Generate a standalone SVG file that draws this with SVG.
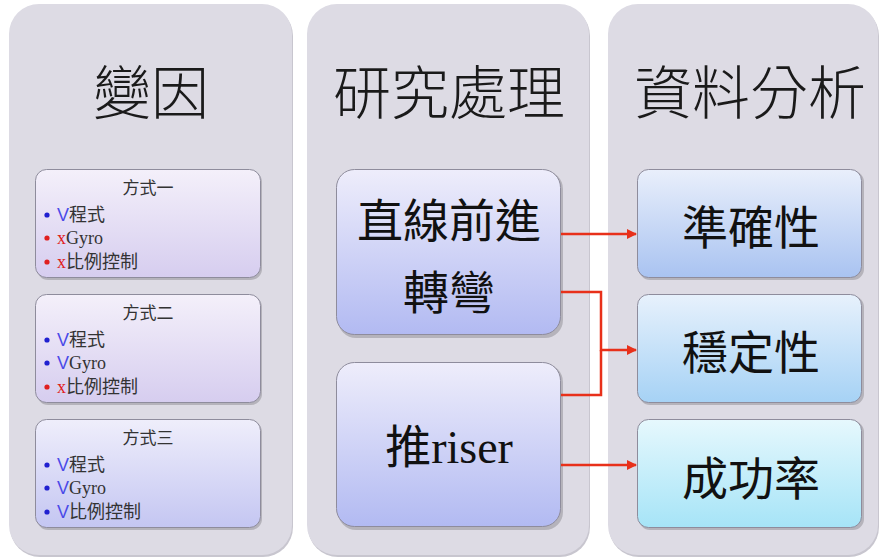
<svg xmlns="http://www.w3.org/2000/svg" width="883" height="558" viewBox="0 0 883 558">
<defs>
<style>
.col{fill:#dddbe4;}
.title{font-family:"Noto Sans CJK TC","Noto Sans CJK SC",sans-serif;font-size:58px;fill:#1a1a1a;text-anchor:middle;font-weight:300;}
.small{stroke:#8e8c9c;stroke-width:1;}
.sh{fill:#000;opacity:0.18;}
.st{font-family:"Liberation Serif","Noto Sans CJK TC",serif;font-size:18px;fill:#333;}
.hd{font-family:"Noto Sans CJK TC",sans-serif;font-size:17px;fill:#333;text-anchor:middle;}
.b{fill:#2020d0;}
.r{fill:#e02020;}
.vb{fill:#4a4ae8;font-family:"Liberation Sans",sans-serif;}
.xr{fill:#e02020;}
.big{font-family:"Liberation Serif","Noto Sans CJK TC",serif;font-size:46px;fill:#111;text-anchor:middle;}
.conn{fill:none;stroke:#e8301a;stroke-width:2.5;}
</style>
<linearGradient id="gL1" x1="0" y1="0" x2="0" y2="1"><stop offset="0" stop-color="#f4f0fa"/><stop offset="1" stop-color="#d6cdef"/></linearGradient>
<linearGradient id="gL3" x1="0" y1="0" x2="0" y2="1"><stop offset="0" stop-color="#efeefb"/><stop offset="1" stop-color="#c4c6f2"/></linearGradient>
<linearGradient id="gM" x1="0" y1="0" x2="0" y2="1"><stop offset="0" stop-color="#eeedfb"/><stop offset="1" stop-color="#b2baf2"/></linearGradient>
<linearGradient id="gR1" x1="0" y1="0" x2="0" y2="1"><stop offset="0" stop-color="#e9effb"/><stop offset="1" stop-color="#a9c3f1"/></linearGradient>
<linearGradient id="gR2" x1="0" y1="0" x2="0" y2="1"><stop offset="0" stop-color="#e7f1fc"/><stop offset="1" stop-color="#a6d2f5"/></linearGradient>
<linearGradient id="gR3" x1="0" y1="0" x2="0" y2="1"><stop offset="0" stop-color="#e6f8fd"/><stop offset="1" stop-color="#a6e4f7"/></linearGradient>
<marker id="ah" viewBox="0 0 10 10" refX="9" refY="5" markerWidth="4" markerHeight="4" orient="auto" markerUnits="strokeWidth">
<path d="M0,0 L10,5 L0,10 z" fill="#e8301a"/>
</marker>
</defs>
<rect width="883" height="558" fill="#ffffff"/>

<g id="col1">
<rect x="10" y="6" width="283" height="551" rx="30" fill="#c8c6cf"/>
<rect class="col" x="9" y="4" width="283" height="551" rx="30"/>
<text class="title" x="151" y="114">變因</text>
</g>
<g id="col2">
<rect x="308" y="6" width="282" height="551" rx="30" fill="#c8c6cf"/>
<rect class="col" x="307" y="4" width="282" height="551" rx="30"/>
<text class="title" x="449" y="114">研究處理</text>
</g>
<g id="col3">
<rect x="609" y="6" width="270" height="551" rx="30" fill="#c8c6cf"/>
<rect class="col" x="608" y="4" width="270" height="551" rx="30"/>
<text class="title" x="750" y="114">資料分析</text>
</g>

<g id="m1">
<rect class="sh" x="37" y="171" width="225" height="109" rx="11"/>
<rect class="small" x="35.5" y="169.5" width="225" height="108" rx="11" fill="url(#gL1)"/>
<text class="hd" x="148" y="194">方式一</text>
<circle class="b" cx="47" cy="215" r="2.6"/><text class="st" x="57" y="221"><tspan class="vb">V</tspan>程式</text>
<circle class="r" cx="47" cy="238" r="2.6"/><text class="st" x="57" y="244"><tspan class="xr">x</tspan>Gyro</text>
<circle class="r" cx="47" cy="262" r="2.6"/><text class="st" x="57" y="268"><tspan class="xr">x</tspan>比例控制</text>
</g>
<g id="m2">
<rect class="sh" x="37" y="296" width="225" height="109" rx="11"/>
<rect class="small" x="35.5" y="294.5" width="225" height="108" rx="11" fill="url(#gL1)"/>
<text class="hd" x="148" y="319">方式二</text>
<circle class="b" cx="47" cy="340" r="2.6"/><text class="st" x="57" y="346"><tspan class="vb">V</tspan>程式</text>
<circle class="b" cx="47" cy="363" r="2.6"/><text class="st" x="57" y="369"><tspan class="vb">V</tspan>Gyro</text>
<circle class="r" cx="47" cy="387" r="2.6"/><text class="st" x="57" y="393"><tspan class="xr">x</tspan>比例控制</text>
</g>
<g id="m3">
<rect class="sh" x="37" y="421" width="225" height="109" rx="11"/>
<rect class="small" x="35.5" y="419.5" width="225" height="108" rx="11" fill="url(#gL3)"/>
<text class="hd" x="148" y="444">方式三</text>
<circle class="b" cx="47" cy="465" r="2.6"/><text class="st" x="57" y="471"><tspan class="vb">V</tspan>程式</text>
<circle class="b" cx="47" cy="488" r="2.6"/><text class="st" x="57" y="494"><tspan class="vb">V</tspan>Gyro</text>
<circle class="b" cx="47" cy="512" r="2.6"/><text class="st" x="57" y="518"><tspan class="vb">V</tspan>比例控制</text>
</g>

<g id="p1">
<rect class="sh" x="338" y="171" width="225" height="167" rx="18"/>
<rect class="small" x="336.5" y="169.5" width="224" height="165" rx="18" fill="url(#gM)"/>
<text class="big" x="449" y="237">直線前進</text>
<text class="big" x="449" y="309">轉彎</text>
</g>
<g id="p2">
<rect class="sh" x="338" y="364" width="225" height="166" rx="18"/>
<rect class="small" x="336.5" y="362.5" width="224" height="164" rx="18" fill="url(#gM)"/>
<text class="big" x="449" y="463">推riser</text>
</g>

<g id="r1">
<rect class="sh" x="639" y="171" width="225" height="109" rx="11"/>
<rect class="small" x="637.5" y="169.5" width="224" height="108" rx="11" fill="url(#gR1)"/>
<text class="big" x="751" y="244">準確性</text>
</g>
<g id="r2">
<rect class="sh" x="639" y="296" width="225" height="109" rx="11"/>
<rect class="small" x="637.5" y="294.5" width="224" height="108" rx="11" fill="url(#gR2)"/>
<text class="big" x="751" y="369">穩定性</text>
</g>
<g id="r3">
<rect class="sh" x="639" y="421" width="225" height="109" rx="11"/>
<rect class="small" x="637.5" y="419.5" width="224" height="108" rx="11" fill="url(#gR3)"/>
<text class="big" x="751" y="495">成功率</text>
</g>

<g id="connectors">
<path class="conn" d="M561,234 H636" marker-end="url(#ah)"/>
<path class="conn" d="M561,292 H601 V350 H636" marker-end="url(#ah)"/>
<path class="conn" d="M561,395 H601 V350"/>
<path class="conn" d="M561,465 H636" marker-end="url(#ah)"/>
</g>
</svg>
